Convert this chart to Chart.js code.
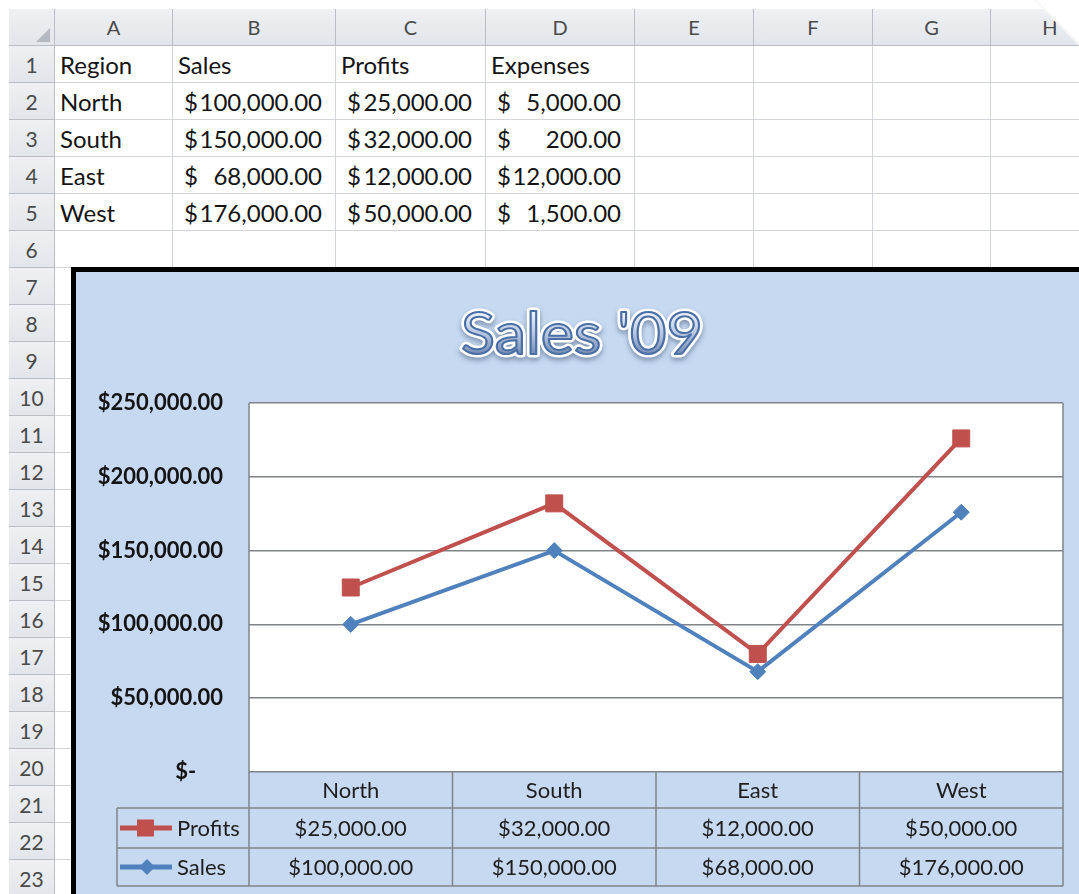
<!DOCTYPE html>
<html><head><meta charset="utf-8">
<script src="https://cdn.jsdelivr.net/npm/chart.js@4.4.1/dist/chart.umd.min.js"></script>
<style>
html,body{margin:0;padding:0;background:#fff;}
body{width:1079px;height:894px;overflow:hidden;position:relative;font-family:Lato,'Open Sans',sans-serif;}
.c{position:absolute;box-sizing:border-box;border-right:1px solid #d2d5d9;border-bottom:1px solid #d2d5d9;font-size:24px;line-height:37px;color:#141414;white-space:nowrap;overflow:hidden;background:#fff}
.h{position:absolute;box-sizing:border-box;background:linear-gradient(#eef0f3,#e2e5ea);border-right:1px solid #b9bec6;border-bottom:1px solid #b9bec6;color:#4a4a4a;font-size:20px;text-align:center;line-height:37px}
.rh{font-size:21px}
.acc{display:flex;justify-content:space-between;padding:0 13px 0 11px}
.txt{padding-left:5px}
#chartBox{position:absolute;left:71px;top:267px;border-left:5px solid #000;border-top:5px solid #000;background:#c6d9f1;width:1003px;height:622px}
#chart{display:block}
#curlShade{position:absolute;left:1034px;top:0;width:45px;height:46px;background:linear-gradient(225deg,#ffffff 45%,#d4d6da 62%,#e6e8eb 80%,#eceef1 100%);clip-path:polygon(0 0,100% 0,100% 100%)}
#corner{position:absolute;left:36px;top:28px;width:0;height:0;border-left:14px solid transparent;border-bottom:14px solid #b4b9c1}
</style></head><body>
<div id="sheet"></div>
<div id="chartBox"><canvas id="chart" width="1003" height="622"></canvas></div>
<div id="curlShade"></div>
<script>
// ---- data ----
const categories = ['North', 'South', 'East', 'West'];
const sales = [100000, 150000, 68000, 176000];
const profits = [25000, 32000, 12000, 50000];
const expenses = [5000, 200, 12000, 1500];
const headerLabels = ['Region', 'Sales', 'Profits', 'Expenses'];
const columnLetters = ['A', 'B', 'C', 'D', 'E', 'F', 'G', 'H'];
const yTickValues = [0, 50000, 100000, 150000, 200000, 250000];
const chartTitle = "Sales '09";

// ---- helpers ----
function num(v){
  const s = Math.round(v*100).toString().padStart(3,'0');
  let intPart = s.slice(0,-2), dec = s.slice(-2);
  intPart = intPart.replace(/\B(?=(\d{3})+(?!\d))/g, ',');
  return intPart + '.' + dec;
}
function money(v){ return '$' + num(v); }

// ---- spreadsheet ----
const sheet = document.getElementById('sheet');
const colX = [55,173,336,486,635,754,873,991,1110];
const rowTop = n => 46 + 37*(n-1);
function add(cls, l, t, w, h, html){
  const d = document.createElement('div');
  d.className = cls;
  d.style.left = l+'px'; d.style.top = t+'px'; d.style.width = w+'px'; d.style.height = h+'px';
  if (html !== undefined) d.innerHTML = html;
  sheet.appendChild(d);
  return d;
}
add('h', 9, 9, 46, 37, '');
for (let i=0;i<8;i++) add('h', colX[i], 9, colX[i+1]-colX[i], 37, columnLetters[i]);
for (let r=1;r<=23;r++){
  add('h rh', 9, rowTop(r), 46, 37, String(r));
  for (let c=0;c<8;c++){
    let html = '';
    let cls = 'c';
    if (r===1 && c<4){ html = headerLabels[c]; cls += ' txt'; }
    else if (r>=2 && r<=5){
      const i = r-2;
      if (c===0){ html = categories[i]; cls += ' txt'; }
      else if (c>=1 && c<=3){
        const v = [sales, profits, expenses][c-1][i];
        html = '<span>$</span><span>'+num(v)+'</span>';
        cls += ' acc';
      }
    }
    add(cls, colX[c], rowTop(r), colX[c+1]-colX[c], 37, html);
  }
}
const corner = document.createElement('div'); corner.id='corner'; sheet.appendChild(corner);

// ---- chart ----
const BG = '#c6d9f1', RED = '#c0504d', BLUE = '#4f81bd', LINE = '#808488';
const HDR_H = 36, ROW_H = [40, 38], LEGEND_LEFT = 41, BOTTOM_GAP = 8;

const bgPlugin = {
  id: 'bg',
  beforeDraw(chart){
    const {ctx, chartArea:a} = chart;
    ctx.save();
    ctx.fillStyle = BG; ctx.fillRect(0,0,chart.width,chart.height);
    ctx.fillStyle = '#ffffff'; ctx.fillRect(a.left, a.top, a.right-a.left, a.bottom-a.top);
    ctx.restore();
  }
};

const titlePlugin = {
  id: 'wordart',
  afterDraw(chart){
    const ctx = chart.ctx;
    ctx.save();
    ctx.font = '400 58px Lato';
    const w = ctx.measureText(chartTitle).width;
    ctx.translate(506, 82);
    ctx.scale(242/w, 1);
    ctx.textAlign = 'center'; ctx.textBaseline = 'alphabetic';
    ctx.lineJoin = 'round';
    ctx.shadowColor = 'rgba(60,80,115,0.5)'; ctx.shadowBlur = 5; ctx.shadowOffsetY = 3;
    ctx.strokeStyle = '#ffffff'; ctx.lineWidth = 7;
    ctx.strokeText(chartTitle, 0, 0);
    ctx.shadowColor = 'transparent';
    const g = ctx.createLinearGradient(0, -42, 0, 2);
    g.addColorStop(0, '#eef2f9'); g.addColorStop(0.45, '#bccbe3'); g.addColorStop(1, '#6f88b3');
    ctx.fillStyle = g;
    ctx.fillText(chartTitle, 0, 0);
    ctx.strokeStyle = '#4a6fa6'; ctx.lineWidth = 2;
    ctx.strokeText(chartTitle, 0, 0);
    ctx.restore();
  }
};

const tablePlugin = {
  id: 'dataTable',
  afterDraw(chart){
    const {ctx, chartArea:a} = chart;
    const xs = chart.scales.x;
    const step = xs.getPixelForValue(1) - xs.getPixelForValue(0);
    const top = a.bottom, r1 = top + HDR_H, r2 = r1 + ROW_H[0], r3 = r2 + ROW_H[1];
    ctx.save();
    ctx.strokeStyle = LINE; ctx.lineWidth = 1.5;
    ctx.beginPath();
    ctx.moveTo(a.left, a.top); ctx.lineTo(a.left, r3);
    ctx.moveTo(a.right, a.top); ctx.lineTo(a.right, r3);
    for (let i=0;i<categories.length-1;i++){
      const x = xs.getPixelForValue(i) + step/2;
      ctx.moveTo(x, top); ctx.lineTo(x, r3);
    }
    [r1, r2, r3].forEach(y => { ctx.moveTo(LEGEND_LEFT, y); ctx.lineTo(a.right, y); });
    ctx.moveTo(LEGEND_LEFT, r1); ctx.lineTo(LEGEND_LEFT, r3);
    ctx.stroke();

    const rows = [
      {label:'Profits', data:profits, color:RED, mark:'square', y:(r1+r2)/2},
      {label:'Sales', data:sales, color:BLUE, mark:'diamond', y:(r2+r3)/2}
    ];
    ctx.font = '400 22px Lato';
    ctx.textBaseline = 'middle';
    rows.forEach(row => {
      ctx.textAlign = 'center';
      ctx.fillStyle = '#1e1e1e';
      row.data.forEach((v,i) => ctx.fillText(money(v), xs.getPixelForValue(i), row.y + 1));
      ctx.strokeStyle = row.color; ctx.lineWidth = 5;
      ctx.beginPath(); ctx.moveTo(44, row.y); ctx.lineTo(96, row.y); ctx.stroke();
      ctx.fillStyle = row.color;
      if (row.mark === 'square'){ ctx.fillRect(61, row.y-8.5, 17, 17); }
      else { ctx.beginPath(); ctx.moveTo(71,row.y-8); ctx.lineTo(79,row.y); ctx.lineTo(71,row.y+8); ctx.lineTo(63,row.y); ctx.closePath(); ctx.fill(); }
      ctx.fillStyle = '#1e1e1e'; ctx.textAlign = 'left';
      ctx.fillText(row.label, 101, row.y + 1);
    });
    ctx.restore();
  }
};

new Chart(document.getElementById('chart'), {
  type: 'line',
  data: {
    labels: categories,
    datasets: [
      {label:'Sales', data:sales, borderColor:BLUE, backgroundColor:BLUE, borderWidth:4,
       pointStyle:'rectRot', pointRadius:8, pointBorderWidth:1, pointBorderColor:BLUE, pointBackgroundColor:BLUE, fill:false, tension:0},
      {label:'Profits', data:profits, borderColor:RED, backgroundColor:RED, borderWidth:4,
       pointStyle:'rect', pointRadius:12, pointBorderWidth:1, pointBorderColor:RED, pointBackgroundColor:RED, fill:false, tension:0}
    ]
  },
  options: {
    responsive:false, animation:false, devicePixelRatio:1,
    layout:{padding:{top:131, right:16, bottom:ROW_H[0]+ROW_H[1]+BOTTOM_GAP, left:0}},
    plugins:{legend:{display:false}, title:{display:false}, tooltip:{enabled:false}},
    scales:{
      x:{offset:true, grid:{display:false, drawTicks:false}, border:{display:false},
         ticks:{padding:6, color:'#1e1e1e', font:{family:'Lato', size:22}},
         afterFit(s){ s.height = HDR_H; }},
      y:{stacked:true, min:0, max:250000,
         afterBuildTicks(s){ s.ticks = yTickValues.map(v => ({value:v})); },
         grid:{color:LINE, lineWidth:1.5, drawTicks:false}, border:{display:false},
         ticks:{padding:26, color:'#141414', font:{family:'Lato', size:22, weight:'bold'},
                callback:(v) => v === 0 ? '$-     ' : money(v)},
         afterFit(s){ s.width = 173; }}
    }
  },
  plugins:[bgPlugin, titlePlugin, tablePlugin]
});
</script>
</body></html>
